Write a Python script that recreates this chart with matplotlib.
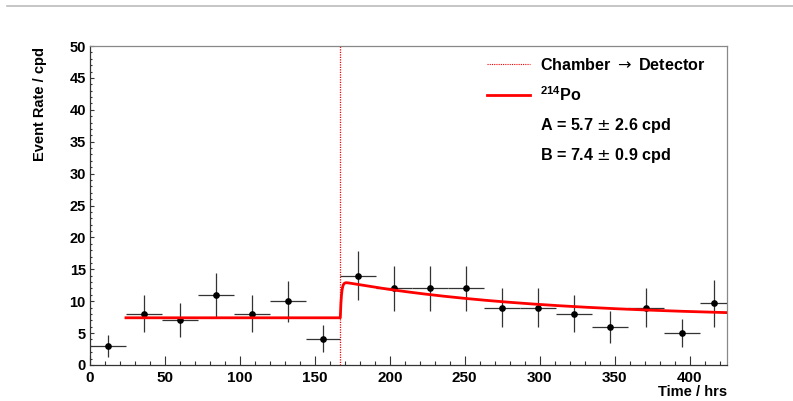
import numpy as np
import matplotlib
matplotlib.use("Agg")
import matplotlib.pyplot as plt
from matplotlib.lines import Line2D
from matplotlib.ticker import MultipleLocator

plt.rcParams['font.family'] = ['Liberation Sans', 'DejaVu Sans']
plt.rcParams['font.weight'] = 'bold'
plt.rcParams['mathtext.fontset'] = 'custom'
plt.rcParams['mathtext.rm'] = 'Liberation Sans:bold'
plt.rcParams['mathtext.it'] = 'Liberation Sans:bold'
plt.rcParams['mathtext.bf'] = 'Liberation Sans:bold'
plt.rcParams['mathtext.sf'] = 'DejaVu Sans:weight=normal'

# ---- data ----
time_hrs = [12, 36, 60, 84, 108, 132, 155.5, 179, 203, 227, 251, 275, 299, 323, 347, 371, 395, 416]
time_halfwidth = [12, 12, 12, 12, 12, 12, 11.5, 12, 12, 12, 12, 12, 12, 12, 12, 12, 12, 9]
rate_cpd = [3, 8, 7, 11, 8, 10, 4.1, 14, 12, 12, 12, 9, 9, 8, 6, 9, 5, 9.65]
rate_err = [1.75, 2.9, 2.65, 3.4, 2.9, 3.2, 2.1, 3.8, 3.55, 3.55, 3.55, 3.1, 3.1, 2.9, 2.5, 3.1, 2.2, 3.7]

# fit parameters (from legend)
fit_A = 5.7
fit_B = 7.4
t_fit_start = 24
t_switch = 167
t_end = 425
rn_halflife_hrs = 3.8235 * 24
rise_tau_hrs = 0.8

t = np.linspace(t_fit_start, t_end, 4000)
dt = np.clip(t - t_switch, 0, None)
tau = rn_halflife_hrs / np.log(2)
fit = fit_B + fit_A * np.exp(-dt / tau) * (1 - np.exp(-dt / rise_tau_hrs))

W, H = 793, 401
fig = plt.figure(figsize=(W / 100, H / 100), dpi=100)
ax = fig.add_axes([90 / W, 36 / H, 637 / W, 319 / H])

ax.errorbar(time_hrs, rate_cpd, yerr=rate_err, xerr=time_halfwidth, fmt='o',
            color='black', ecolor='#333333', elinewidth=0.9, markersize=3.8,
            capsize=0, zorder=3)
vl = ax.axvline(t_switch, color='red', linestyle=(0, (1, 1)), linewidth=0.9, zorder=2)
fl, = ax.plot(t, fit, color='red', linewidth=2.0, zorder=4)

ax.set_xlim(0, t_end)
ax.set_ylim(0, 50)
ax.xaxis.set_major_locator(MultipleLocator(50))
ax.xaxis.set_minor_locator(MultipleLocator(10))
ax.yaxis.set_major_locator(MultipleLocator(5))
ax.yaxis.set_minor_locator(MultipleLocator(1))
ax.tick_params(axis='x', which='major', direction='in', length=6.5, width=0.8, labelsize=11, pad=4, color='#333333')
ax.tick_params(axis='x', which='minor', direction='in', length=3.2, width=0.8, color='#333333')
ax.tick_params(axis='y', which='major', direction='in', length=3.0, width=0.8, labelsize=10.5, pad=3, color='#333333')
ax.tick_params(axis='y', which='minor', direction='in', length=1.5, width=0.8, color='#333333')
for lab in ax.get_xticklabels() + ax.get_yticklabels():
    lab.set_fontweight('bold')

for s in ['left', 'bottom']:
    ax.spines[s].set_color('#333333')
    ax.spines[s].set_linewidth(0.9)
for s in ['top', 'right']:
    ax.spines[s].set_color('#888888')
    ax.spines[s].set_linewidth(0.9)

fig.text(40 / W, 1 - 47 / H, 'Event Rate / cpd', rotation=90, ha='center', va='top',
         fontsize=10.5, fontweight='bold')
fig.text(727 / W, 1 - 392 / H, 'Time / hrs', ha='right', va='center',
         fontsize=10.5, fontweight='bold')

# legend
blank = Line2D([], [], linestyle='none')
leg = ax.legend([Line2D([], [], color='red', linestyle=(0, (1, 1)), linewidth=0.8),
                 Line2D([], [], color='red', linewidth=2.0), blank, blank],
                [r'Chamber $\mathsf{\rightarrow}$ Detector', r'$^{214}$Po',
                 r'A = 5.7 $\mathsf{\pm}$ 2.6 cpd', r'B = 7.4 $\mathsf{\pm}$ 0.9 cpd'],
                loc='upper left', bbox_to_anchor=(487 / W, 1 - 57 / H),
                bbox_transform=fig.transFigure, frameon=False,
                handlelength=2.67, handletextpad=0.62, labelspacing=0.74,
                prop={'weight': 'bold', 'size': 11.6}, borderpad=0, borderaxespad=0)

# top decorative rule
fig.add_artist(Line2D([7 / W, 1], [1 - 6 / H, 1 - 6 / H], transform=fig.transFigure,
                      color='#bbbbbb', linewidth=1.2))

fig.savefig('out.png', dpi=100)
